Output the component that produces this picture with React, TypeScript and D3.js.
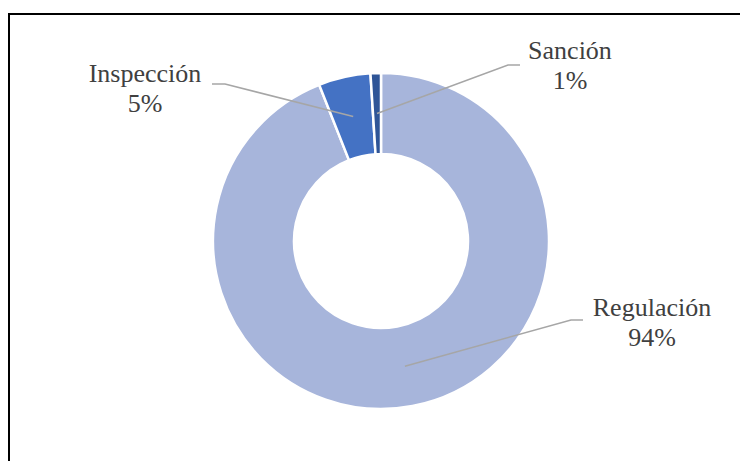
import React from "react";
import * as d3 from "d3";

const categories = ["Regulación", "Inspección", "Sanción"];
const values = [94, 5, 1];
const percentLabels = ["94%", "5%", "1%"];
const colors = ["#A7B5DB", "#4472C4", "#2F5597"];

const W = 740;
const H = 461;
const cx = 381;
const cy = 241;
const outerR = 168;
const innerR = 87;

const labelLayout = [
  { tx: 652, ty: 316, ex: 571, ey: 320, hx: 583 },
  { tx: 145, ty: 82, ex: 225, ey: 84, hx: 212 },
  { tx: 570, ty: 59, ex: 508, ey: 65, hx: 520 },
];

const FONT = "'Liberation Serif', 'Times New Roman', serif";

export default function App() {
  const pie = d3
    .pie<number>()
    .sort(null)
    .startAngle(0)
    .endAngle(2 * Math.PI)
    .value((d) => d);
  const arcs = pie(values);
  const arc = d3.arc<d3.PieArcDatum<number>>().innerRadius(innerR).outerRadius(outerR);

  return (
    <svg
      width={W}
      height={H}
      style={{ position: "absolute", left: 0, top: 0, background: "#fff" }}
    >
      <rect x={9} y={14} width={W + 20} height={H + 20} fill="#fff" stroke="#000" strokeWidth={2} />
      <g transform={`translate(${cx},${cy})`}>
        {arcs.map((a, i) => (
          <path key={i} d={arc(a) || ""} fill={colors[i]} stroke="#fff" strokeWidth={2.5} />
        ))}
      </g>
      {arcs.map((a, i) => {
        const [px, py] = arc.centroid(a);
        const L = labelLayout[i];
        return (
          <g key={"l" + i}>
            <polyline
              points={`${cx + px},${cy + py} ${L.ex},${L.ey} ${L.hx},${L.ey}`}
              fill="none"
              stroke="#A6A6A6"
              strokeWidth={1.5}
            />
            <text x={L.tx} y={L.ty} textAnchor="middle" style={{ fontFamily: FONT, fontSize: "26px" }} fill="#404040">
              {categories[i]}
            </text>
            <text x={L.tx} y={L.ty + 30} textAnchor="middle" style={{ fontFamily: FONT, fontSize: "26px" }} fill="#404040">
              {percentLabels[i]}
            </text>
          </g>
        );
      })}
    </svg>
  );
}
